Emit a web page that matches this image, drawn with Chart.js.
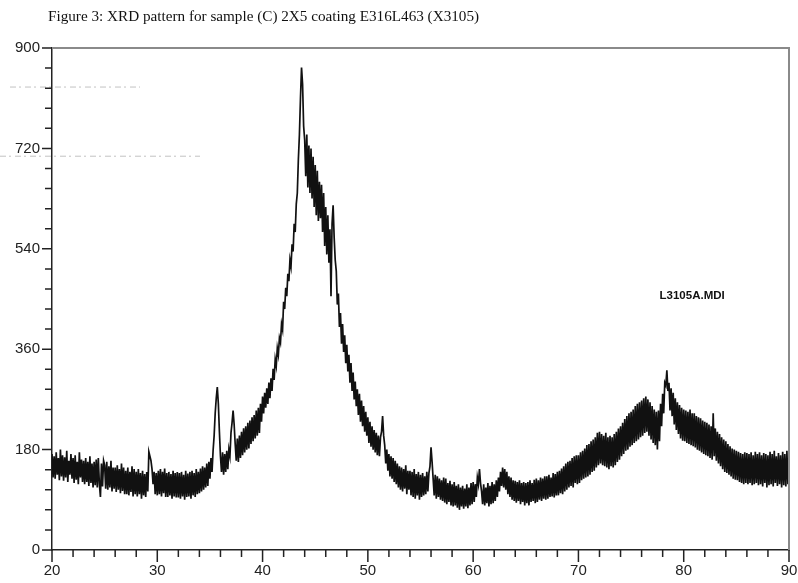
<!DOCTYPE html>
<html lang="en">
  <head>
    <meta charset="utf-8" />
    <script src="https://cdn.jsdelivr.net/npm/chart.js"></script>
    <style>
      html,
      body {
        margin: 0;
        padding: 0;
        background: #fff;
        overflow: hidden;
      }
      .canvas {
        width: 798px;
        height: 583px;
        overflow: hidden;
      }
      canvas {
        display: block;
      }
    </style>
    <title>XRD pattern X3105</title>
  </head>

  <body>
    <div class="canvas">
      <canvas id="myChart"></canvas>
    </div>

    <script>
      // scan settings (2-theta, degrees)
      const angleStart = 20;
      const angleStep = 0.1;

      // counts, one row per degree (x.0 .. x.9)
      const counts20to40 = [
        172, 130, 168, 128, 175, 135, 165, 125, 180, 132,
        170, 124, 166, 130, 178, 122, 160, 135, 172, 128,
        165, 120, 170, 126, 158, 118, 175, 130, 162, 122,
        160, 118, 165, 122, 158, 115, 168, 120, 155, 112,
        158, 116, 162, 112, 165, 118, 95, 155, 114, 160,
        152, 110, 158, 108, 150, 112, 160, 105, 148, 110,
        148, 104, 152, 108, 145, 102, 155, 106, 148, 100,
        142, 100, 148, 98, 140, 104, 150, 96, 145, 100,
        140, 96, 145, 100, 138, 92, 142, 98, 136, 95,
        140, 105, 176, 168, 160, 145, 118, 140, 100, 138,
        98, 142, 100, 145, 96, 140, 102, 146, 95, 138,
        95, 140, 98, 136, 92, 142, 96, 138, 94, 140,
        94, 138, 92, 140, 96, 135, 90, 142, 95, 137,
        96, 140, 92, 142, 98, 138, 95, 145, 100, 140,
        102, 146, 105, 150, 108, 148, 112, 155, 115, 158,
        128, 165, 140, 178, 205, 245, 272, 292, 262, 212,
        168, 140, 175, 135, 172, 140, 178, 145, 180, 168,
        210, 228, 250, 225, 190, 160, 200, 158, 205, 165,
        212, 170, 218, 175, 222, 180, 228, 182, 232, 190,
        238, 195, 242, 200, 250, 205, 255, 210, 262, 230,
      ];
      const counts40to55 = [
        275, 245, 282, 255, 290, 262, 300, 272, 308, 285,
        325, 305, 342, 330, 362, 350, 380, 372, 405, 395,
        445, 432, 470, 455, 495, 482, 520, 508, 548, 535,
        585, 570, 620, 640, 700, 745, 810, 865, 835, 760,
        735, 670, 745, 650, 725, 640, 720, 630, 705, 615,
        690, 600, 680, 590, 660, 595, 655, 570, 640, 545,
        615, 530, 600, 515, 575, 455, 585, 618, 560, 520,
        500, 440, 460, 400, 425, 370, 405, 355, 385, 335,
        368, 320, 350, 300, 335, 285, 318, 270, 302, 258,
        288, 242, 280, 230, 268, 222, 258, 212, 248, 205,
        238, 192, 230, 185, 222, 180, 215, 175, 210, 170,
        205, 168, 202, 212, 240, 205, 188, 155, 180, 142,
        172, 132, 168, 128, 165, 122, 160, 118, 155, 112,
        150, 108, 148, 105, 145, 110, 152, 100, 142, 108,
        142, 98, 140, 95, 145, 92, 136, 98, 140, 90,
      ];
      const counts55to70 = [
        135, 95, 138, 98, 132, 100, 140, 105, 138, 150,
        184, 158, 128, 98, 135, 92, 132, 95, 128, 90,
        125, 88, 130, 85, 128, 82, 120, 86, 124, 80,
        118, 78, 122, 80, 115, 76, 118, 72, 112, 78,
        115, 74, 110, 78, 118, 75, 112, 80, 120, 82,
        122, 86, 118, 95, 130, 118, 145, 120, 105, 82,
        118, 80, 112, 84, 120, 78, 115, 82, 122, 84,
        118, 88, 125, 95, 130, 105, 140, 115, 148, 112,
        145, 108, 140, 100, 132, 95, 130, 90, 125, 88,
        124, 85, 122, 88, 125, 82, 120, 86, 122, 80,
        120, 84, 122, 80, 125, 86, 120, 88, 126, 84,
        128, 86, 125, 90, 130, 88, 128, 92, 132, 90,
        132, 92, 135, 95, 130, 96, 138, 94, 136, 98,
        140, 98, 142, 102, 146, 100, 150, 105, 155, 108,
        158, 112, 160, 115, 165, 112, 168, 120, 170, 118,
      ];
      const counts70to90 = [
        170, 120, 175, 125, 178, 128, 182, 130, 188, 132,
        190, 135, 195, 140, 198, 142, 202, 148, 210, 152,
        212, 155, 208, 152, 205, 150, 210, 148, 202, 145,
        205, 150, 202, 148, 208, 152, 212, 158, 218, 162,
        222, 168, 228, 172, 235, 178, 240, 180, 245, 185,
        248, 188, 252, 192, 258, 195, 262, 198, 265, 202,
        268, 205, 272, 210, 275, 212, 270, 205, 265, 198,
        258, 192, 252, 188, 248, 180, 250, 195, 262, 222,
        280, 245, 300, 295, 322, 285, 300, 250, 290, 240,
        282, 225, 272, 215, 265, 208, 260, 200, 255, 196,
        252, 195, 250, 192, 248, 190, 252, 188, 245, 186,
        245, 184, 240, 180, 238, 178, 236, 175, 232, 172,
        230, 170, 228, 168, 225, 165, 222, 162, 245, 168,
        218, 160, 212, 155, 208, 150, 202, 145, 198, 140,
        195, 138, 190, 135, 186, 132, 182, 128, 180, 126,
        178, 125, 176, 122, 174, 120, 172, 118, 175, 120,
        174, 118, 172, 120, 175, 116, 170, 118, 176, 120,
        172, 116, 175, 118, 170, 114, 174, 120, 172, 112,
        170, 116, 176, 118, 172, 114, 178, 120, 168, 115,
        174, 118, 170, 112, 176, 116, 172, 114, 178, 118,
        150,
      ];

      const xTicks = [20, 30, 40, 50, 60, 70, 80, 90];
      const yTicks = [0, 180, 360, 540, 720, 900];

      const figureTitle =
        "Figure 3: XRD pattern for sample (C) 2X5 coating E316L463 (X3105)";
      const fileLabel = "L3105A.MDI";

      const counts = counts20to40.concat(counts40to55, counts55to70, counts70to90);
      const points = counts.map((c, i) => ({
        x: Math.round((angleStart + i * angleStep) * 10) / 10,
        y: c,
      }));

      // ticks, frame, title and file name drawn by hand
      const decorations = {
        id: "decorations",
        afterDraw(chart) {
          const ctx = chart.ctx;
          const xs = chart.scales.x;
          const ys = chart.scales.y;
          const area = chart.chartArea;
          ctx.save();

          // grey frame on top and right
          ctx.strokeStyle = "#8a8a8a";
          ctx.lineWidth = 2;
          ctx.beginPath();
          ctx.moveTo(area.left, area.top);
          ctx.lineTo(area.right, area.top);
          ctx.lineTo(area.right, area.bottom);
          ctx.stroke();

          // faint scan streaks on the left
          ctx.strokeStyle = "rgba(120,120,120,0.45)";
          ctx.lineWidth = 1;
          ctx.setLineDash([6, 3, 2, 4]);
          ctx.beginPath();
          ctx.moveTo(10, ys.getPixelForValue(830));
          ctx.lineTo(140, ys.getPixelForValue(830));
          ctx.moveTo(0, ys.getPixelForValue(706));
          ctx.lineTo(200, ys.getPixelForValue(706));
          ctx.stroke();
          ctx.setLineDash([]);

          // axis ticks
          ctx.strokeStyle = "#222";
          ctx.lineWidth = 1.5;
          ctx.beginPath();
          for (let v = xs.min; v <= xs.max; v += 2) {
            const px = xs.getPixelForValue(v);
            const len = v % 10 === 0 ? 12 : 7;
            ctx.moveTo(px, area.bottom);
            ctx.lineTo(px, area.bottom + len);
          }
          for (let v = ys.min; v <= ys.max; v += 36) {
            const py = ys.getPixelForValue(v);
            const len = v % 180 === 0 ? 10 : 7;
            ctx.moveTo(area.left, py);
            ctx.lineTo(area.left - len, py);
          }
          ctx.stroke();

          // figure title
          ctx.fillStyle = "#111";
          ctx.font = "15.2px 'Liberation Serif', 'Times New Roman', serif";
          ctx.textAlign = "left";
          ctx.textBaseline = "alphabetic";
          ctx.fillText(figureTitle, 48, 21);

          // data file name
          ctx.font = "bold 11.5px 'Liberation Sans', Arial, sans-serif";
          ctx.textAlign = "center";
          ctx.textBaseline = "middle";
          ctx.fillText(fileLabel, xs.getPixelForValue(80.8), ys.getPixelForValue(456));

          ctx.restore();
        },
      };

      const tickFont = {
        family: "'Liberation Sans', Arial, sans-serif",
        size: 15,
      };

      new Chart(document.getElementById("myChart"), {
        type: "line",
        plugins: [decorations],
        data: {
          datasets: [
            {
              data: points,
              borderColor: "#111",
              borderWidth: 1.7,
              pointRadius: 0,
              tension: 0,
              fill: false,
            },
          ],
        },
        options: {
          responsive: true,
          maintainAspectRatio: false,
          animation: false,
          layout: {
            padding: { top: 48, right: 9, left: 0, bottom: 0 },
          },
          plugins: {
            legend: { display: false },
            tooltip: { enabled: false },
          },
          scales: {
            x: {
              type: "linear",
              min: xTicks[0],
              max: xTicks[xTicks.length - 1],
              afterFit: (scale) => {
                scale.height = 33;
                scale.paddingLeft = 0;
                scale.paddingRight = 0;
              },
              afterBuildTicks: (scale) => {
                scale.ticks = xTicks.map((v) => ({ value: v }));
              },
              grid: { display: false, drawTicks: false },
              border: { display: true, color: "#222", width: 1.5 },
              ticks: {
                color: "#222",
                font: tickFont,
                padding: 12,
                maxRotation: 0,
              },
            },
            y: {
              min: yTicks[0],
              max: yTicks[yTicks.length - 1],
              afterFit: (scale) => {
                scale.width = 52;
                scale.paddingTop = 0;
                scale.paddingBottom = 0;
              },
              afterBuildTicks: (scale) => {
                scale.ticks = yTicks.map((v) => ({ value: v }));
              },
              grid: { display: false, drawTicks: false },
              border: { display: true, color: "#222", width: 1.5 },
              ticks: {
                color: "#222",
                font: tickFont,
                padding: 12,
              },
            },
          },
        },
      });
    </script>
  </body>
</html>
